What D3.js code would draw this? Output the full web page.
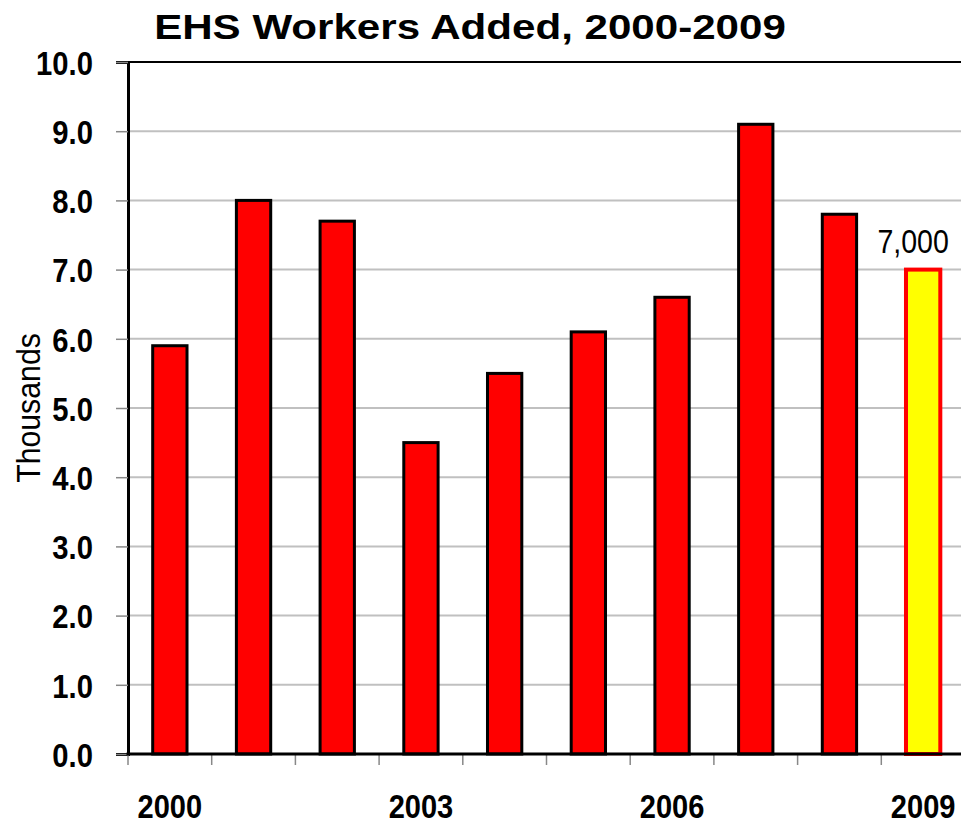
<!DOCTYPE html>
<html>
<head>
<meta charset="utf-8">
<script src="https://cdn.jsdelivr.net/npm/d3@7"></script>
<style>
  html, body { margin: 0; padding: 0; background: #fff; }
  svg { display: block; }
  text { font-family: "Liberation Sans", Arial, sans-serif; fill: #000; }
</style>
</head>
<body>
<div id="chart"></div>
<script>
  const years = ['2000', '2001', '2002', '2003', '2004', '2005', '2006', '2007', '2008', '2009'];
  const workers = [5.9, 8.0, 7.7, 4.5, 5.5, 6.1, 6.6, 9.1, 7.8, 7.0];
  const shownYears = ['2000', '2003', '2006', '2009'];
  const yTicks = [0, 1, 2, 3, 4, 5, 6, 7, 8, 9, 10];
  const highlightYear = '2009';
  const highlightLabel = '7,000';

  const w = 961, h = 825;
  const margin = { top: 62, bottom: 71, left: 128 };
  const plotRight = 965; // plot runs a little past the frame
  const narrow = 0.86;   // condensed look for labels

  const svg = d3.select('#chart').append('svg')
    .attr('width', w)
    .attr('height', h);

  const x = d3.scaleBand()
    .domain(years)
    .range([margin.left, plotRight])
    .paddingInner(0.59)
    .paddingOuter(0.295);

  const y = d3.scaleLinear()
    .domain([0, 10])
    .range([h - margin.bottom, margin.top]);

  // text squeezed horizontally around its anchor point
  function label(g, px, py, str, opts) {
    const o = opts || {};
    return g.append('g')
      .attr('transform', `translate(${px},${py})${o.rotate ? ' rotate(' + o.rotate + ')' : ''} scale(${o.sx || narrow},1)`)
      .append('text')
      .attr('text-anchor', o.anchor || 'middle')
      .attr('font-size', o.size || 34)
      .attr('font-weight', o.weight || 'normal')
      .text(str);
  }

  // gridlines
  svg.append('g')
    .selectAll('line')
    .data(yTicks.filter(d => d > 0 && d < 10))
    .join('line')
    .attr('x1', margin.left)
    .attr('x2', w)
    .attr('y1', d => y(d))
    .attr('y2', d => y(d))
    .attr('stroke', '#c0c0c0')
    .attr('stroke-width', 2);

  // top border
  svg.append('line')
    .attr('x1', margin.left).attr('x2', w)
    .attr('y1', y(10)).attr('y2', y(10))
    .attr('stroke', '#000').attr('stroke-width', 2);

  // bars
  svg.append('g')
    .selectAll('rect')
    .data(years.map((yr, i) => ({ yr, v: workers[i] })))
    .join('rect')
    .attr('x', d => x(d.yr))
    .attr('width', x.bandwidth())
    .attr('y', d => y(d.v))
    .attr('height', d => y(0) - y(d.v))
    .attr('fill', d => d.yr === highlightYear ? '#ffff00' : '#ff0000')
    .attr('stroke', d => d.yr === highlightYear ? '#ff0000' : '#000')
    .attr('stroke-width', d => d.yr === highlightYear ? 4 : 3);

  // y axis
  const yAxis = svg.append('g')
    .attr('transform', `translate(${margin.left},0)`)
    .call(d3.axisLeft(y).tickValues(yTicks).tickFormat(d3.format('.1f')).tickSize(12));
  yAxis.select('.domain').attr('stroke', '#000').attr('stroke-width', 3);
  yAxis.selectAll('.tick line').attr('stroke', '#888').attr('stroke-width', 1.5);
  yAxis.selectAll('.tick text')
    .attr('x', -35 / narrow)
    .attr('dy', '0.36em')
    .attr('transform', `scale(${narrow},1)`)
    .attr('font-size', 34)
    .attr('font-weight', 'bold')
    .attr('font-family', '"Liberation Sans", Arial, sans-serif')
    .attr('fill', '#000');

  // x axis: ticks at band boundaries
  const boundaries = years.map(yr => x(yr) - x.step() * x.paddingInner() / 2);
  svg.append('g')
    .selectAll('line')
    .data(boundaries)
    .join('line')
    .attr('x1', d => d).attr('x2', d => d)
    .attr('y1', y(0)).attr('y2', y(0) + 11)
    .attr('stroke', '#888').attr('stroke-width', 1.5);
  svg.append('line')
    .attr('x1', margin.left - 1.5).attr('x2', w)
    .attr('y1', y(0)).attr('y2', y(0))
    .attr('stroke', '#000').attr('stroke-width', 3);

  const xLabels = svg.append('g');
  shownYears.forEach(yr => {
    label(xLabels, x(yr) + x.bandwidth() / 2, 818, yr, { weight: 'bold', size: 33, sx: 0.88 });
  });

  // value label on highlighted bar
  const hv = workers[years.indexOf(highlightYear)];
  label(svg, x(highlightYear) + x.bandwidth() / 2 - 10, y(hv) - 17, highlightLabel, { sx: 0.84 });

  // y label
  label(svg, 40, (y(0) + y(10)) / 2, 'Thousands', { rotate: -90, sx: 0.89 });

  // title
  label(svg, 470, 39, 'EHS Workers Added, 2000-2009', { size: 36, weight: 'bold', sx: 1.17 });
</script>
</body>
</html>
